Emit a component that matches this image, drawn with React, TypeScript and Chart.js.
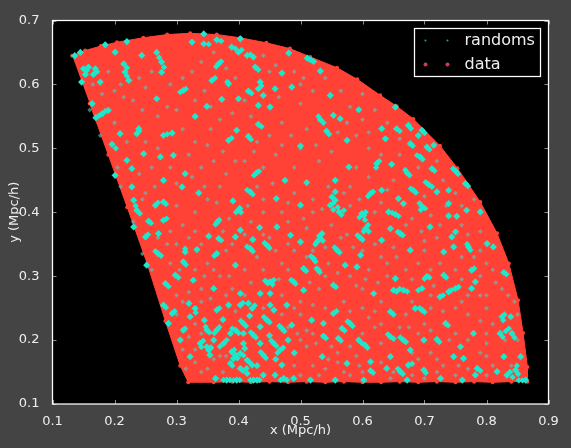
import React, { useEffect, useRef } from "react";
import { Chart, registerables } from "chart.js";

Chart.register(...registerables);

type P = [number, number];

const xTicks = [0.1, 0.2, 0.3, 0.4, 0.5, 0.6, 0.7, 0.8, 0.9];
const yTicks = [0.1, 0.2, 0.3, 0.4, 0.5, 0.6, 0.7];
const seriesNames = ["randoms", "data"];

// outline of the data footprint, read along its edge
const dataEdge: P[] = [
  [0.1318, 0.645], [0.1527, 0.653], [0.178, 0.66], [0.204, 0.666], [0.2465, 0.673], [0.285, 0.678],
  [0.322, 0.68], [0.365, 0.678], [0.4027, 0.673], [0.445, 0.665], [0.483, 0.656], [0.5157, 0.643],
  [0.559, 0.626], [0.5915, 0.608], [0.6285, 0.583], [0.655, 0.566], [0.682, 0.546], [0.725, 0.504],
  [0.753, 0.469], [0.79, 0.416], [0.817, 0.367], [0.836, 0.32], [0.851, 0.2625], [0.859, 0.211],
  [0.866, 0.158], [0.866, 0.135], [0.84, 0.135], [0.81, 0.134], [0.78, 0.135], [0.75, 0.134],
  [0.72, 0.135], [0.69, 0.134], [0.66, 0.135], [0.63, 0.134], [0.6, 0.134], [0.57, 0.135],
  [0.54, 0.134], [0.51, 0.135], [0.48, 0.134], [0.45, 0.135], [0.42, 0.134], [0.39, 0.135],
  [0.36, 0.134], [0.319, 0.134], [0.306, 0.16], [0.282, 0.23], [0.2527, 0.32], [0.2205, 0.408],
  [0.19, 0.49], [0.16, 0.57],
];

const randomsTopLeft: P[] = [
  [0.15, 0.6245], [0.158, 0.627], [0.169, 0.6245], [0.166, 0.6157], [0.153, 0.6157], [0.147, 0.6037],
  [0.177, 0.6037], [0.164, 0.5698], [0.19, 0.5594], [0.18, 0.554], [0.17, 0.548], [0.201, 0.6505],
  [0.244, 0.6453], [0.215, 0.632], [0.217, 0.6193], [0.223, 0.6063], [0.268, 0.65], [0.276, 0.635],
  [0.276, 0.619], [0.311, 0.5906], [0.268, 0.5776], [0.209, 0.5229], [0.239, 0.5307], [0.236, 0.5229],
  [0.279, 0.5203], [0.293, 0.5239], [0.196, 0.5062], [0.136, 0.645], [0.145, 0.65], [0.185, 0.662],
  [0.22, 0.667],
];

const randomsTopMiddle: P[] = [
  [0.344, 0.6636], [0.365, 0.6698], [0.389, 0.6584], [0.403, 0.6714], [0.414, 0.6453], [0.424, 0.6427],
  [0.4, 0.6505], [0.368, 0.6323], [0.427, 0.6271], [0.435, 0.6037], [0.432, 0.5932], [0.416, 0.5896],
  [0.357, 0.6063], [0.384, 0.601], [0.486, 0.5958], [0.47, 0.6177], [0.516, 0.6386], [0.532, 0.6208],
  [0.548, 0.5828], [0.373, 0.5766], [0.349, 0.5656], [0.4, 0.5776], [0.432, 0.5672], [0.451, 0.5646],
  [0.532, 0.5448], [0.542, 0.527], [0.553, 0.5516], [0.432, 0.5375], [0.416, 0.5187], [0.397, 0.5281],
  [0.384, 0.5125], [0.5, 0.5036], [0.594, 0.5604], [0.325, 0.6662], [0.33, 0.55], [0.481, 0.649],
  [0.44, 0.5828], [0.459, 0.5932], [0.564, 0.5463], [0.575, 0.5125], [0.344, 0.679], [0.511, 0.641],
  [0.521, 0.636],
];

const randomsTopRight: P[] = [
  [0.637, 0.515], [0.677, 0.5073], [0.655, 0.5307], [0.674, 0.5359], [0.696, 0.5281], [0.704, 0.502],
  [0.653, 0.5646], [0.631, 0.5307], [0.69, 0.52], [0.715, 0.505],
];

const randomsMiddleLeft: P[] = [
  [0.22, 0.4813], [0.228, 0.4682], [0.247, 0.4917], [0.279, 0.45], [0.228, 0.4396], [0.231, 0.4188],
  [0.236, 0.4031], [0.255, 0.386], [0.279, 0.3875], [0.25, 0.3614], [0.271, 0.3666], [0.27, 0.3354],
  [0.231, 0.3771], [0.252, 0.3172], [0.282, 0.2885], [0.298, 0.3015], [0.314, 0.338], [0.311, 0.3224],
  [0.309, 0.4396], [0.314, 0.4604], [0.266, 0.4109], [0.279, 0.4161], [0.201, 0.4578], [0.274, 0.4865],
  [0.295, 0.489],
];

const randomsCenter: P[] = [
  [0.4, 0.4031], [0.402, 0.406], [0.366, 0.3849], [0.368, 0.3588], [0.365, 0.3354], [0.336, 0.4302],
  [0.391, 0.4177], [0.419, 0.4318], [0.429, 0.4615], [0.451, 0.2911], [0.447, 0.2895], [0.419, 0.3432],
  [0.446, 0.3484], [0.395, 0.3172], [0.333, 0.3416], [0.36, 0.2807], [0.327, 0.2937], [0.489, 0.2911],
  [0.505, 0.3119], [0.529, 0.3093], [0.521, 0.3276], [0.532, 0.3588], [0.484, 0.364], [0.5, 0.3536],
  [0.553, 0.2859], [0.599, 0.3979], [0.602, 0.395], [0.596, 0.3604], [0.556, 0.4188], [0.548, 0.411],
  [0.562, 0.4005], [0.605, 0.3745], [0.559, 0.3406], [0.623, 0.4761], [0.613, 0.4292], [0.578, 0.4708],
  [0.556, 0.45], [0.51, 0.4464], [0.475, 0.45], [0.5, 0.411], [0.461, 0.4214], [0.434, 0.376],
  [0.462, 0.3771], [0.423, 0.3573], [0.352, 0.3625], [0.395, 0.3614], [0.403, 0.3719], [0.403, 0.2729],
  [0.435, 0.2729], [0.451, 0.2729], [0.505, 0.2781], [0.591, 0.3145], [0.572, 0.3172], [0.618, 0.2729],
  [0.597, 0.3328], [0.5346, 0.3666], [0.5265, 0.3536], [0.5508, 0.424], [0.5561, 0.432],
];

const randomsMiddleRight: P[] = [
  [0.693, 0.4865], [0.647, 0.475], [0.672, 0.4615], [0.712, 0.4682], [0.75, 0.4646], [0.766, 0.4448],
  [0.707, 0.4432], [0.682, 0.4344], [0.658, 0.4214], [0.72, 0.4318], [0.739, 0.4344], [0.666, 0.4135],
  [0.696, 0.4094], [0.653, 0.3969], [0.642, 0.4005], [0.739, 0.4135], [0.768, 0.4031], [0.752, 0.3937],
  [0.739, 0.3943], [0.709, 0.3771], [0.661, 0.3667], [0.645, 0.3745], [0.75, 0.3693], [0.744, 0.3614],
  [0.631, 0.3562], [0.677, 0.3406], [0.771, 0.3458], [0.747, 0.3458], [0.731, 0.338], [0.776, 0.3093],
  [0.828, 0.3057], [0.704, 0.2999], [0.731, 0.3015], [0.782, 0.2911], [0.75, 0.2807], [0.739, 0.2755],
  [0.725, 0.2677], [0.65, 0.2781], [0.666, 0.2781], [0.696, 0.2807], [0.776, 0.2807], [0.801, 0.351],
  [0.811, 0.3458], [0.79, 0.4005], [0.631, 0.4344], [0.653, 0.2963],
];

const randomsBottomLeft: P[] = [
  [0.279, 0.2547], [0.293, 0.2417], [0.32, 0.2573], [0.384, 0.2547], [0.311, 0.2156], [0.349, 0.2156],
  [0.322, 0.2365], [0.365, 0.2156], [0.338, 0.1948], [0.352, 0.1844], [0.389, 0.1817], [0.403, 0.1791],
  [0.414, 0.1687], [0.422, 0.1609], [0.387, 0.1635], [0.408, 0.226], [0.424, 0.2078], [0.446, 0.2312],
  [0.47, 0.2182], [0.457, 0.1948], [0.44, 0.1765], [0.467, 0.1844], [0.43, 0.1375], [0.424, 0.1375],
  [0.397, 0.1375], [0.381, 0.1375], [0.363, 0.14], [0.473, 0.14], [0.349, 0.1896], [0.306, 0.2],
  [0.33, 0.2495], [0.403, 0.2547], [0.422, 0.2495], [0.451, 0.2547], [0.408, 0.2104], [0.365, 0.2469],
  [0.395, 0.2156], [0.435, 0.2208], [0.403, 0.1557], [0.47, 0.1609], [0.322, 0.174], [0.354, 0.1765],
  [0.287, 0.226], [0.376, 0.1948], [0.44, 0.1453], [0.459, 0.1453], [0.414, 0.1479], [0.457, 0.2469],
  [0.478, 0.2547], [0.387, 0.2104], [0.408, 0.1948], [0.435, 0.1948], [0.416, 0.2573], [0.395, 0.1765],
  [0.398, 0.172], [0.392, 0.171], [0.41, 0.187], [0.36, 0.2], [0.345, 0.231], [0.375, 0.232],
  [0.418, 0.238], [0.45, 0.207], [0.48, 0.2], [0.49, 0.18], [0.43, 0.16], [0.46, 0.17],
];

const randomsBottomRight: P[] = [
  [0.567, 0.2182], [0.58, 0.226], [0.537, 0.2062], [0.561, 0.2026], [0.604, 0.1922], [0.594, 0.2],
  [0.486, 0.2234], [0.518, 0.2312], [0.553, 0.2417], [0.537, 0.226], [0.696, 0.2469], [0.685, 0.2495],
  [0.645, 0.2052], [0.666, 0.2], [0.645, 0.2443], [0.734, 0.226], [0.72, 0.201], [0.699, 0.2],
  [0.758, 0.1896], [0.779, 0.2104], [0.825, 0.2365], [0.839, 0.2365], [0.822, 0.2104], [0.841, 0.2104],
  [0.847, 0.153], [0.833, 0.1453], [0.828, 0.174], [0.785, 0.1557], [0.747, 0.174], [0.699, 0.1531],
  [0.661, 0.1505], [0.674, 0.1609], [0.639, 0.1557], [0.613, 0.152], [0.575, 0.1635], [0.535, 0.174],
  [0.489, 0.14], [0.602, 0.1375], [0.556, 0.1375], [0.516, 0.1375], [0.761, 0.1375], [0.863, 0.1375],
  [0.672, 0.1375], [0.726, 0.14], [0.782, 0.1453], [0.817, 0.1505], [0.677, 0.1844], [0.763, 0.1713],
  [0.645, 0.174], [0.613, 0.1661], [0.855, 0.174],
];

const randomsClumps: P[] = [
  [0.155, 0.6215], [0.172, 0.62], [0.185, 0.558], [0.175, 0.551], [0.22, 0.626], [0.22, 0.613], [0.272, 0.642],
  [0.28, 0.627], [0.315, 0.593], [0.306, 0.588], [0.24, 0.527], [0.285, 0.522], [0.202, 0.5],
  [0.352, 0.663], [0.372, 0.668], [0.395, 0.656], [0.419, 0.647], [0.405, 0.654], [0.432, 0.623],
  [0.437, 0.598], [0.421, 0.586], [0.362, 0.61], [0.537, 0.54], [0.546, 0.522], [0.529, 0.55],
  [0.437, 0.534], [0.42, 0.514], [0.389, 0.516], [0.372, 0.636], [0.364, 0.628], [0.382, 0.604],
  [0.681, 0.504], [0.66, 0.527], [0.678, 0.531], [0.7, 0.524], [0.708, 0.498], [0.234, 0.41],
  [0.241, 0.398], [0.259, 0.383], [0.284, 0.39], [0.254, 0.365], [0.275, 0.332], [0.266, 0.339],
  [0.287, 0.284], [0.303, 0.298], [0.314, 0.343], [0.315, 0.318], [0.27, 0.415], [0.283, 0.413],
  [0.404, 0.4], [0.396, 0.4], [0.369, 0.388], [0.363, 0.381], [0.372, 0.356], [0.361, 0.332],
  [0.423, 0.428], [0.414, 0.435], [0.433, 0.464], [0.425, 0.458], [0.455, 0.287], [0.457, 0.294],
  [0.443, 0.293], [0.423, 0.339], [0.414, 0.346], [0.45, 0.344], [0.442, 0.352], [0.492, 0.288],
  [0.485, 0.294], [0.509, 0.308], [0.531, 0.306], [0.526, 0.312], [0.517, 0.331], [0.524, 0.323],
  [0.536, 0.3555], [0.53, 0.363], [0.524, 0.35], [0.557, 0.283], [0.595, 0.392], [0.605, 0.4],
  [0.604, 0.388], [0.6, 0.357], [0.592, 0.364], [0.553, 0.414], [0.56, 0.408], [0.553, 0.404],
  [0.566, 0.396], [0.57, 0.403], [0.61, 0.37], [0.609, 0.38], [0.602, 0.37], [0.563, 0.337],
  [0.555, 0.345], [0.617, 0.432], [0.609, 0.425], [0.627, 0.48], [0.622, 0.47], [0.697, 0.483],
  [0.688, 0.489], [0.676, 0.458], [0.669, 0.466], [0.716, 0.465], [0.754, 0.46], [0.746, 0.468],
  [0.77, 0.441], [0.712, 0.44], [0.702, 0.447], [0.686, 0.431], [0.678, 0.437], [0.701, 0.406],
  [0.694, 0.404], [0.692, 0.414], [0.658, 0.394], [0.648, 0.399], [0.665, 0.364], [0.657, 0.369],
  [0.774, 0.341], [0.769, 0.35], [0.78, 0.312], [0.832, 0.303], [0.708, 0.298], [0.7, 0.296],
  [0.735, 0.298], [0.743, 0.278], [0.755, 0.283], [0.73, 0.27], [0.655, 0.276], [0.66, 0.28],
  [0.672, 0.276], [0.69, 0.278], [0.283, 0.251], [0.297, 0.245], [0.314, 0.218], [0.353, 0.212],
  [0.347, 0.221], [0.369, 0.22], [0.361, 0.211], [0.343, 0.199], [0.356, 0.188], [0.34, 0.189],
  [0.393, 0.185], [0.408, 0.176], [0.418, 0.165], [0.39, 0.16], [0.412, 0.222], [0.404, 0.23],
  [0.428, 0.204], [0.42, 0.212], [0.45, 0.228], [0.441, 0.236], [0.474, 0.214], [0.466, 0.222],
  [0.461, 0.191], [0.453, 0.199], [0.444, 0.172], [0.436, 0.181], [0.472, 0.188], [0.463, 0.18],
  [0.434, 0.1375], [0.419, 0.1375], [0.402, 0.1375], [0.392, 0.137], [0.386, 0.1375], [0.376, 0.1375],
  [0.468, 0.1375], [0.478, 0.1375], [0.407, 0.258], [0.426, 0.254], [0.331, 0.243], [0.369, 0.25],
  [0.381, 0.2], [0.37, 0.19], [0.4, 0.211], [0.39, 0.218], [0.407, 0.152], [0.413, 0.156],
  [0.571, 0.215], [0.584, 0.222], [0.576, 0.229], [0.541, 0.203], [0.565, 0.199], [0.608, 0.188],
  [0.599, 0.195], [0.558, 0.245], [0.7, 0.244], [0.692, 0.25], [0.65, 0.202], [0.67, 0.197],
  [0.661, 0.204], [0.641, 0.209], [0.65, 0.24], [0.738, 0.223], [0.724, 0.197], [0.829, 0.24],
  [0.827, 0.231], [0.826, 0.205], [0.831, 0.214], [0.836, 0.218], [0.845, 0.204], [0.849, 0.16],
  [0.851, 0.147], [0.838, 0.15], [0.842, 0.142], [0.79, 0.152], [0.702, 0.149], [0.665, 0.147],
  [0.657, 0.155], [0.68, 0.163], [0.617, 0.149], [0.858, 0.137], [0.852, 0.137],
];

const randomsSpecks: P[] = [
  [0.165, 0.6], [0.19, 0.62], [0.2, 0.59], [0.215, 0.58], [0.23, 0.575], [0.25, 0.595], [0.26, 0.62],
  [0.29, 0.6], [0.3, 0.56], [0.325, 0.62], [0.34, 0.635], [0.345, 0.59], [0.36, 0.65], [0.38, 0.625],
  [0.395, 0.61], [0.41, 0.575], [0.45, 0.62], [0.465, 0.58], [0.49, 0.62], [0.5, 0.57], [0.52, 0.59],
  [0.54, 0.61], [0.565, 0.59], [0.58, 0.565], [0.6, 0.545], [0.62, 0.56], [0.64, 0.54], [0.66, 0.515],
  [0.2, 0.54], [0.22, 0.51], [0.25, 0.51], [0.27, 0.55], [0.31, 0.53], [0.33, 0.51], [0.355, 0.53],
  [0.37, 0.545], [0.42, 0.55], [0.47, 0.54], [0.485, 0.52], [0.51, 0.53], [0.56, 0.525], [0.59, 0.52],
  [0.61, 0.5], [0.63, 0.49], [0.66, 0.49], [0.69, 0.47], [0.72, 0.48], [0.24, 0.46], [0.26, 0.47],
  [0.29, 0.47], [0.32, 0.49], [0.34, 0.47], [0.36, 0.48], [0.38, 0.46], [0.41, 0.48], [0.44, 0.47],
  [0.46, 0.49], [0.49, 0.47], [0.53, 0.48], [0.55, 0.495], [0.59, 0.47], [0.61, 0.455], [0.65, 0.45],
  [0.7, 0.425], [0.73, 0.45], [0.75, 0.43], [0.78, 0.42], [0.25, 0.43], [0.3, 0.41], [0.33, 0.4],
  [0.35, 0.42], [0.37, 0.44], [0.44, 0.42], [0.47, 0.4], [0.49, 0.43], [0.52, 0.42], [0.535, 0.405],
  [0.57, 0.43], [0.58, 0.41], [0.62, 0.4], [0.68, 0.39], [0.71, 0.395], [0.76, 0.38], [0.79, 0.37],
  [0.27, 0.36], [0.29, 0.37], [0.31, 0.38], [0.33, 0.37], [0.42, 0.385], [0.44, 0.4], [0.45, 0.36],
  [0.48, 0.385], [0.51, 0.375], [0.55, 0.38], [0.575, 0.365], [0.62, 0.35], [0.65, 0.345], [0.7, 0.355],
  [0.72, 0.36], [0.78, 0.33], [0.8, 0.32], [0.815, 0.29], [0.29, 0.32], [0.33, 0.31], [0.35, 0.32],
  [0.38, 0.34], [0.41, 0.31], [0.43, 0.33], [0.47, 0.32], [0.49, 0.34], [0.52, 0.34], [0.545, 0.32],
  [0.58, 0.3], [0.61, 0.31], [0.64, 0.32], [0.69, 0.32], [0.71, 0.31], [0.75, 0.31], [0.8, 0.27],
  [0.835, 0.27], [0.3, 0.27], [0.34, 0.28], [0.37, 0.3], [0.39, 0.28], [0.42, 0.29], [0.47, 0.27],
  [0.5, 0.26], [0.53, 0.28], [0.57, 0.26], [0.6, 0.28], [0.63, 0.26], [0.68, 0.26], [0.71, 0.27],
  [0.76, 0.26], [0.8, 0.25], [0.3, 0.24], [0.34, 0.21], [0.355, 0.19], [0.31, 0.185], [0.33, 0.165],
  [0.37, 0.175], [0.35, 0.155], [0.375, 0.15], [0.5, 0.24], [0.52, 0.21], [0.51, 0.19], [0.55, 0.19],
  [0.54, 0.155], [0.52, 0.16], [0.59, 0.175], [0.62, 0.22], [0.63, 0.195], [0.65, 0.15], [0.66, 0.22],
  [0.68, 0.18], [0.7, 0.225], [0.71, 0.18], [0.73, 0.16], [0.75, 0.21], [0.77, 0.24], [0.79, 0.18],
  [0.8, 0.21], [0.81, 0.16], [0.83, 0.2], [0.85, 0.2], [0.85, 0.24], [0.84, 0.16], [0.6, 0.15],
  [0.56, 0.165], [0.49, 0.16], [0.5, 0.2], [0.7, 0.14], [0.75, 0.145], [0.58, 0.145],
  [0.18, 0.585], [0.21, 0.6], [0.24, 0.61], [0.245, 0.56], [0.285, 0.565], [0.31, 0.61], [0.33, 0.575],
  [0.355, 0.565], [0.39, 0.555], [0.43, 0.51], [0.45, 0.52], [0.47, 0.505], [0.5, 0.5], [0.525, 0.505],
  [0.575, 0.54], [0.61, 0.525], [0.6, 0.585], [0.5, 0.6], [0.44, 0.645], [0.46, 0.63], [0.505, 0.61],
  [0.35, 0.505], [0.375, 0.495], [0.395, 0.48], [0.425, 0.495], [0.27, 0.5], [0.245, 0.42], [0.265, 0.44],
  [0.3, 0.445], [0.325, 0.455], [0.345, 0.44], [0.365, 0.415], [0.385, 0.39], [0.415, 0.41], [0.43, 0.44],
  [0.455, 0.445], [0.48, 0.415], [0.505, 0.39], [0.52, 0.4], [0.545, 0.44], [0.58, 0.44], [0.595, 0.42],
  [0.63, 0.415], [0.64, 0.435], [0.67, 0.38], [0.695, 0.37], [0.725, 0.38], [0.735, 0.41], [0.76, 0.41],
  [0.77, 0.365], [0.79, 0.34], [0.76, 0.33], [0.725, 0.32], [0.7, 0.34], [0.67, 0.31], [0.655, 0.33],
  [0.63, 0.33], [0.6, 0.34], [0.585, 0.345], [0.565, 0.36], [0.54, 0.345], [0.51, 0.33], [0.48, 0.35],
  [0.46, 0.34], [0.44, 0.365], [0.41, 0.365], [0.39, 0.35], [0.375, 0.37], [0.34, 0.35], [0.32, 0.36],
  [0.3, 0.35], [0.285, 0.35], [0.305, 0.31], [0.32, 0.275], [0.345, 0.3], [0.36, 0.31], [0.385, 0.3],
  [0.41, 0.27], [0.44, 0.31], [0.465, 0.295], [0.48, 0.31], [0.515, 0.29], [0.54, 0.3], [0.56, 0.305],
  [0.59, 0.285], [0.605, 0.295], [0.625, 0.29], [0.64, 0.3], [0.68, 0.295], [0.715, 0.285], [0.76, 0.295],
  [0.79, 0.3], [0.81, 0.31], [0.825, 0.28], [0.845, 0.26], [0.79, 0.27], [0.77, 0.27], [0.73, 0.245],
  [0.75, 0.25], [0.71, 0.25], [0.67, 0.24], [0.62, 0.245], [0.6, 0.25], [0.58, 0.245], [0.54, 0.25],
  [0.52, 0.255], [0.49, 0.25], [0.47, 0.24], [0.34, 0.26], [0.31, 0.26], [0.355, 0.265], [0.38, 0.27],
  [0.395, 0.245], [0.44, 0.25], [0.33, 0.225], [0.32, 0.205], [0.33, 0.185], [0.315, 0.155], [0.34, 0.15],
  [0.36, 0.17], [0.38, 0.175], [0.48, 0.22], [0.495, 0.21], [0.51, 0.215], [0.525, 0.195], [0.545, 0.17],
  [0.56, 0.18], [0.58, 0.19], [0.6, 0.21], [0.61, 0.235], [0.63, 0.225], [0.675, 0.22], [0.69, 0.21],
  [0.71, 0.215], [0.74, 0.2], [0.77, 0.2], [0.8, 0.195], [0.81, 0.225], [0.79, 0.23], [0.8, 0.175],
  [0.77, 0.155], [0.755, 0.16], [0.72, 0.17], [0.69, 0.17], [0.63, 0.165], [0.595, 0.16], [0.57, 0.15],
  [0.53, 0.145], [0.5, 0.145], [0.645, 0.14], [0.68, 0.145], [0.72, 0.15], [0.8, 0.145],
  [0.21, 0.44], [0.205, 0.47], [0.245, 0.335], [0.26, 0.31], [0.23, 0.385], [0.177, 0.52], [0.16, 0.56],
];

const randomsBlobs: P[] = [
  ...randomsTopLeft, ...randomsTopMiddle, ...randomsTopRight, ...randomsMiddleLeft,
  ...randomsCenter, ...randomsMiddleRight, ...randomsBottomLeft, ...randomsBottomRight,
];

const toPoints = (list: P[]) => list.map(([x, y]) => ({ x, y }));

const RED = "#FF4136";
const CYAN = "#1CE8CC";
const INK = "#EEEEEE";

const framePlugin = {
  id: "frame",
  beforeDraw(chart: any) {
    const { ctx, chartArea: a } = chart;
    ctx.save();
    ctx.fillStyle = "#000000";
    ctx.fillRect(a.left, a.top, a.right - a.left, a.bottom - a.top);
    ctx.restore();
  },
  afterDraw(chart: any) {
    const { ctx, chartArea: a, scales } = chart;
    ctx.save();
    ctx.strokeStyle = "rgba(255,255,255,0.55)";
    ctx.lineWidth = 1;
    ctx.beginPath();
    for (const v of xTicks) {
      const p = Math.round(scales.x.getPixelForValue(v)) + 0.5;
      ctx.moveTo(p, a.top);
      ctx.lineTo(p, a.top + 4);
      ctx.moveTo(p, a.bottom);
      ctx.lineTo(p, a.bottom - 4);
    }
    for (const v of yTicks) {
      const p = Math.round(scales.y.getPixelForValue(v)) + 0.5;
      ctx.moveTo(a.left, p);
      ctx.lineTo(a.left + 4, p);
      ctx.moveTo(a.right, p);
      ctx.lineTo(a.right - 4, p);
    }
    ctx.stroke();
    ctx.strokeStyle = "#FFFFFF";
    ctx.lineWidth = 1.25;
    ctx.strokeRect(a.left, a.top, a.right - a.left, a.bottom - a.top);

    // legend with two sample markers per entry, upper right
    const boxL = a.right - 134;
    const boxT = a.top + 8;
    ctx.fillStyle = "#000000";
    ctx.fillRect(boxL, boxT, 126, 48);
    ctx.strokeStyle = "#FFFFFF";
    ctx.lineWidth = 1.25;
    ctx.strokeRect(boxL, boxT, 126, 48);
    const rows = [
      { r: 1, c: "rgba(28,232,204,0.75)", dy: 12 },
      { r: 2, c: "rgba(255,65,90,0.85)", dy: 36 },
    ];
    rows.forEach((row, i) => {
      ctx.fillStyle = row.c;
      for (const dx of [11, 33]) {
        ctx.beginPath();
        ctx.arc(boxL + dx, boxT + row.dy, row.r, 0, Math.PI * 2);
        ctx.fill();
      }
      ctx.fillStyle = INK;
      ctx.font = '16px "DejaVu Sans"';
      ctx.textBaseline = "middle";
      ctx.textAlign = "left";
      ctx.fillText(seriesNames[i], boxL + 50, boxT + row.dy);
    });
    ctx.restore();
  },
};

export default function App() {
  const ref = useRef<HTMLCanvasElement | null>(null);

  useEffect(() => {
    const chart = new Chart(ref.current as HTMLCanvasElement, {
      type: "scatter",
      data: {
        datasets: [
          {
            label: seriesNames[0],
            data: toPoints(randomsBlobs),
            backgroundColor: CYAN,
            borderWidth: 0,
            pointStyle: "rectRot",
            pointRadius: 3.6,
            order: 1,
          },
          {
            label: seriesNames[0],
            data: toPoints(randomsClumps),
            backgroundColor: CYAN,
            borderWidth: 0,
            pointStyle: "rectRot",
            pointRadius: 3.2,
            order: 1,
          },
          {
            label: seriesNames[0],
            data: toPoints(randomsSpecks),
            backgroundColor: "rgba(90,200,190,0.6)",
            borderWidth: 0,
            pointStyle: "rectRot",
            pointRadius: 2.4,
            order: 1,
          },
          {
            label: seriesNames[1],
            data: toPoints(dataEdge),
            showLine: true,
            tension: 0,
            fill: "shape",
            borderColor: RED,
            borderWidth: 1,
            backgroundColor: RED,
            pointBackgroundColor: RED,
            pointBorderWidth: 0,
            pointRadius: 2,
            order: 2,
          },
        ],
      } as any,
      options: {
        animation: false,
        responsive: false,
        layout: { padding: { top: 20.5, right: 22.5, left: 0, bottom: 0 } },
        plugins: { legend: { display: false }, tooltip: { enabled: false } },
        scales: {
          x: {
            type: "linear",
            min: 0.1,
            max: 0.9,
            grid: { display: false },
            border: { display: false },
            afterFit: (s: any) => {
              s.height = 44;
            },
            afterBuildTicks: (s: any) => {
              s.ticks = xTicks.map((value) => ({ value }));
            },
            ticks: {
              color: INK,
              font: { family: "DejaVu Sans", size: 13 },
              maxRotation: 0,
              autoSkip: false,
              padding: 2,
              callback: (v: any) => Number(v).toFixed(1),
            },
            title: {
              display: true,
              text: "x (Mpc/h)",
              color: INK,
              font: { family: "DejaVu Sans", size: 13 },
              padding: { top: 2, bottom: 10 },
            },
          },
          y: {
            type: "linear",
            min: 0.1,
            max: 0.7,
            grid: { display: false },
            border: { display: false },
            afterFit: (s: any) => {
              s.width = 52.5;
            },
            afterBuildTicks: (s: any) => {
              s.ticks = yTicks.map((value) => ({ value }));
            },
            ticks: {
              color: INK,
              font: { family: "DejaVu Sans", size: 13 },
              autoSkip: false,
              padding: 5,
              callback: (v: any) => Number(v).toFixed(1),
            },
            title: {
              display: true,
              text: "y (Mpc/h)",
              color: INK,
              font: { family: "DejaVu Sans", size: 13 },
              padding: { top: 7, bottom: 0 },
            },
          },
        },
      } as any,
      plugins: [framePlugin],
    } as any);
    return () => chart.destroy();
  }, []);

  return (
    <div style={{ position: "fixed", left: 0, top: 0, width: 571, height: 448, background: "#444444" }}>
      <canvas ref={ref} width={571} height={448} style={{ display: "block", background: "#444444" }} />
    </div>
  );
}
